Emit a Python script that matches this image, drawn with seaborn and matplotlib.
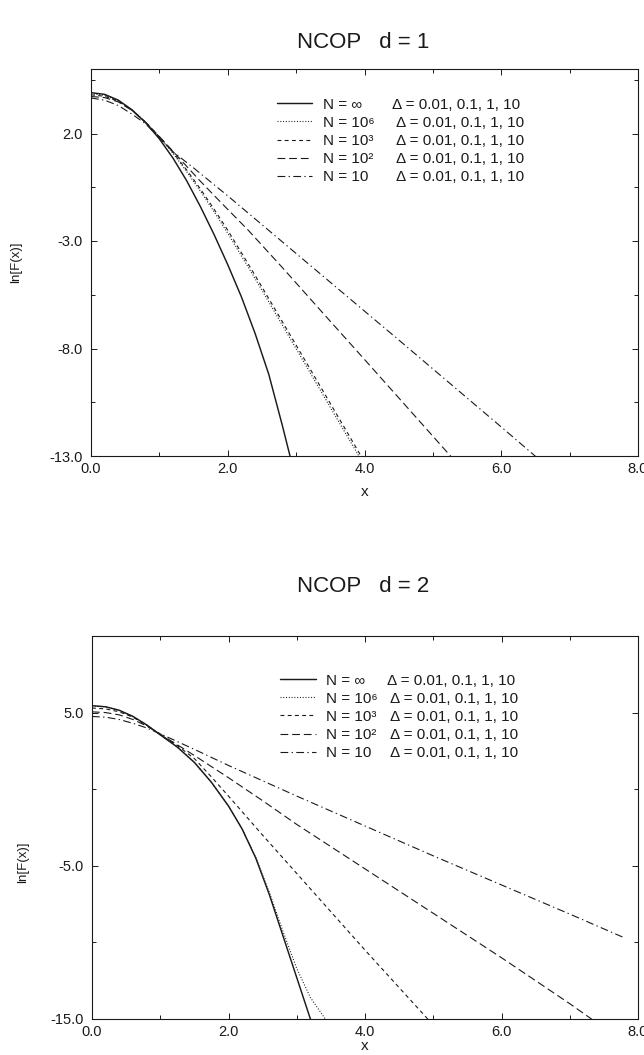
import matplotlib
matplotlib.use("Agg")
import matplotlib.pyplot as plt
import seaborn as sns
from matplotlib.ticker import MultipleLocator, FixedLocator, FormatStrFormatter

sns.set_style("ticks")
plt.rcParams['font.family'] = ['Liberation Sans', 'DejaVu Sans']
plt.rcParams['axes.unicode_minus'] = False

# ---------------- data: panel d = 1 ----------------
top_inf_x = [0, 0.2, 0.4, 0.6, 0.8, 1.0, 1.2, 1.4, 1.6, 1.8, 2.0, 2.2, 2.4, 2.6, 2.8, 2.95]
top_inf_y = [3.9, 3.82, 3.55, 3.1, 2.5, 1.75, 0.85, -0.2, -1.4, -2.7, -4.1, -5.6, -7.3, -9.2, -11.6, -13.5]

top_e6_x = [0, 0.2, 0.4, 0.6, 0.8, 1.0, 1.2, 1.4, 1.6, 1.8, 2.0, 2.4, 2.8, 3.2, 3.6, 4.0]
top_e6_y = [3.85, 3.78, 3.52, 3.1, 2.52, 1.82, 1.08, 0.22, -0.68, -1.64, -2.64, -4.75, -6.92, -9.1, -11.28, -13.45]

top_e3_x = [0, 0.2, 0.4, 0.6, 0.8, 1.0, 1.2, 1.4, 1.6, 1.8, 2.0, 2.4, 2.8, 3.2, 3.6, 4.05]
top_e3_y = [3.8, 3.73, 3.5, 3.08, 2.52, 1.85, 1.12, 0.3, -0.58, -1.52, -2.5, -4.6, -6.76, -8.93, -11.1, -13.55]

top_e2_x = [0, 0.2, 0.4, 0.6, 0.8, 1.0, 1.2, 1.4, 1.6, 1.8, 2.0, 2.3, 2.8, 3.4, 4.0, 4.6, 5.3]
top_e2_y = [3.72, 3.67, 3.47, 3.07, 2.52, 1.86, 1.17, 0.47, -0.22, -0.88, -1.53, -2.5, -4.24, -6.38, -8.51, -10.65, -13.15]

top_e1_x = [0, 0.2, 0.4, 0.6, 0.8, 1.0, 1.2, 1.5, 2.0, 2.5, 3.0, 3.5, 4.0, 4.5, 5.0, 5.5, 6.0, 6.55]
top_e1_y = [3.65, 3.55, 3.3, 2.9, 2.45, 1.8, 1.15, 0.4, -0.9, -2.24, -3.58, -4.92, -6.26, -7.6, -8.95, -10.3, -11.65, -13.15]

# ---------------- data: panel d = 2 ----------------
bot_inf_x = [0, 0.2, 0.4, 0.6, 0.8, 1.0, 1.25, 1.5, 1.75, 2.0, 2.2, 2.4, 2.6, 2.8, 3.0, 3.2]
bot_inf_y = [5.45, 5.38, 5.15, 4.75, 4.2, 3.55, 2.75, 1.75, 0.45, -1.1, -2.6, -4.5, -6.9, -9.6, -12.3, -15.0]

bot_e6_x = [0, 0.2, 0.4, 0.6, 0.8, 1.0, 1.25, 1.5, 1.75, 2.0, 2.2, 2.4, 2.6, 2.8, 3.0, 3.2, 3.45]
bot_e6_y = [5.45, 5.38, 5.15, 4.75, 4.2, 3.55, 2.75, 1.75, 0.45, -1.1, -2.6, -4.45, -6.75, -9.3, -11.7, -13.6, -15.2]

bot_e3_x = [0, 0.2, 0.4, 0.6, 0.8, 1.0, 1.25, 1.5, 1.75, 2.0, 2.5, 3.0, 3.5, 4.0, 4.5, 4.95]
bot_e3_y = [5.3, 5.24, 5.05, 4.7, 4.17, 3.57, 2.85, 2.0, 0.8, -0.45, -3.0, -5.5, -8.0, -10.5, -12.95, -15.15]

bot_e2_x = [0, 0.2, 0.4, 0.6, 0.8, 1.0, 1.5, 2.0, 2.5, 3.0, 4.0, 5.0, 6.0, 7.0, 7.35]
bot_e2_y = [5.05, 5.0, 4.85, 4.55, 4.13, 3.6, 2.2, 0.75, -0.75, -2.3, -5.2, -8.1, -11.0, -14.0, -15.1]

bot_e1_x = [0, 0.2, 0.4, 0.6, 0.8, 1.0, 1.5, 2.0, 2.5, 3.0, 4.0, 5.0, 6.0, 7.0, 7.8]
bot_e1_y = [4.75, 4.7, 4.55, 4.3, 4.0, 3.62, 2.6, 1.55, 0.55, -0.45, -2.4, -4.35, -6.25, -8.15, -9.7]

series_labels = ["N = \u221e", "N = 10\u2076", "N = 10\u00b3", "N = 10\u00b2", "N = 10"]
delta_label = "\u0394 = 0.01, 0.1, 1, 10"
titles = ["NCOP   d = 1", "NCOP   d = 2"]
ylabel = "ln[F(x)]"
xlabel = "x"
top_yticks = [2, -3, -8, -13]
bot_yticks = [5, -5, -15]

# ---------------- styling ----------------
INK = "#1a1a1a"
line_styles = [
    dict(lw=1.05),
    dict(lw=0.8, dashes=(0.9, 1.6)),
    dict(lw=0.8, dashes=(3.5, 3.0)),
    dict(lw=0.8, dashes=(7.0, 3.5)),
    dict(lw=0.8, dashes=(7.0, 3.0, 1.2, 3.0)),
]

W, H = 644, 1055
fig = plt.figure(figsize=(W / 100, H / 100), dpi=100)
ax1 = fig.add_axes([91 / W, 1 - 456 / H, 547 / W, 387 / H])
ax2 = fig.add_axes([92 / W, 1 - 1019 / H, 546 / W, 383 / H])

panels = [
    (ax1, [(top_inf_x, top_inf_y), (top_e6_x, top_e6_y), (top_e3_x, top_e3_y),
           (top_e2_x, top_e2_y), (top_e1_x, top_e1_y)],
     (-13, 5), top_yticks, [-10.5, -5.5, -0.5, 4.5]),
    (ax2, [(bot_inf_x, bot_inf_y), (bot_e6_x, bot_e6_y), (bot_e3_x, bot_e3_y),
           (bot_e2_x, bot_e2_y), (bot_e1_x, bot_e1_y)],
     (-15, 10), bot_yticks, [0, -10]),
]

for ax, curves, ylim, yt, ymin in panels:
    for (xs, ys), lab, st in zip(curves, series_labels, line_styles):
        sns.lineplot(x=xs, y=ys, ax=ax, color=INK, label=lab, legend=False,
                     errorbar=None, sort=False, **st)
    ax.set_xlim(0, 8)
    ax.set_ylim(*ylim)
    ax.xaxis.set_major_locator(MultipleLocator(2))
    ax.xaxis.set_minor_locator(MultipleLocator(1))
    ax.yaxis.set_major_locator(FixedLocator(yt))
    ax.yaxis.set_minor_locator(FixedLocator(ymin))
    ax.xaxis.set_major_formatter(FormatStrFormatter('%.1f'))
    ax.yaxis.set_major_formatter(FormatStrFormatter('%.1f'))
    ax.tick_params(which='both', direction='in', top=True, right=True,
                   color=INK, width=0.7)
    ax.tick_params(which='major', length=4.5, labelsize=10.5, labelcolor=INK)
    ax.tick_params(which='minor', length=3)
    ax.tick_params(axis='x', which='major', pad=4)
    ax.tick_params(axis='y', which='major', pad=6)
    for sp in ax.spines.values():
        sp.set_linewidth(0.8)
        sp.set_color(INK)
    ax.set_xlabel(xlabel, fontsize=11, color=INK)
    ax.set_ylabel(ylabel, fontsize=9.5, color=INK)

ax1.xaxis.set_label_coords(0.5, -0.074)
ax2.xaxis.set_label_coords(0.5, -0.052)
ax1.yaxis.set_label_coords(-0.126, 0.5)
ax2.yaxis.set_label_coords(-0.115, 0.41)

fig.text(0.564, 1 - 42 / H, titles[0], ha='center', va='center', fontsize=16, color=INK)
fig.text(0.564, 1 - 587 / H, titles[1], ha='center', va='center', fontsize=16, color=INK)

legs = []
for ax, anchor in [(ax1, (0.340, 0.926)), (ax2, (0.345, 0.902))]:
    leg = ax.legend(loc='upper left', bbox_to_anchor=anchor, frameon=False,
                    fontsize=11, handlelength=2.3, handletextpad=0.7,
                    labelspacing=0.27, borderpad=0, borderaxespad=0)
    for t in leg.get_texts():
        t.set_color(INK)
    legs.append(leg)

fig.canvas.draw()
for ax, leg, dx in [(ax1, legs[0], (0.551, 0.558)), (ax2, legs[1], (0.541, 0.546))]:
    for i, t in enumerate(leg.get_texts()):
        disp = t.get_transform().transform(t.get_position())
        ya = ax.transAxes.inverted().transform(disp)[1]
        xa = dx[0] if i == 0 else dx[1]
        ax.text(xa, ya, delta_label, transform=ax.transAxes, fontsize=11,
                va='baseline', ha='left', color=INK)

fig.savefig("out.png", dpi=100)
